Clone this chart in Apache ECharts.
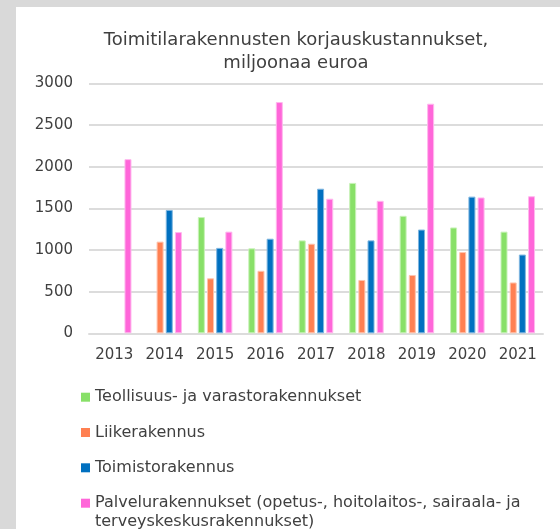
<!DOCTYPE html>
<html>
<head>
<meta charset="utf-8">
<script src="https://cdn.jsdelivr.net/npm/echarts@6/dist/echarts.min.js"></script>
<style>
html,body{margin:0;padding:0;width:560px;height:529px;overflow:hidden;background:#d9d9d9;}
#chart{position:absolute;left:16px;top:7px;width:544px;height:540px;background:#ffffff;}
</style>
</head>
<body>
<div id="chart"></div>
<script>
const years = ['2013','2014','2015','2016','2017','2018','2019','2020','2021'];
const seriesNames = [
  'Teollisuus- ja varastorakennukset',
  'Liikerakennus',
  'Toimistorakennus',
  'Palvelurakennukset (opetus-, hoitolaitos-, sairaala- ja terveyskeskusrakennukset)'
];
const teollisuus = [null, null, 1395, 1020, 1115, 1805, 1410, 1270, 1220];
const liike = [null, 1100, 660, 750, 1075, 640, 700, 975, 610];
const toimisto = [null, 1480, 1025, 1135, 1735, 1115, 1245, 1640, 945];
const palvelu = [2090, 1215, 1220, 2775, 1615, 1590, 2755, 1630, 1645];
const yTicks = {min: 0, max: 3000, interval: 500};

const colors = ['#88e068', '#ff8052', '#0070c0', '#ff66d9'];
const borders = ['#c8f2b8', '#ffc4ae', '#7fb6e0', '#ffb8ee'];
const values = [teollisuus, liike, toimisto, palvelu];

const chart = echarts.init(document.getElementById('chart'), null, {renderer: 'canvas'});
const font = "'DejaVu Sans'";
const textColor = '#404040';

const legendCenters = [390.2, 425.5, 460.8, 496.2];
const legends = seriesNames.map((n, i) => {
  const last = i === 3;
  return {
    data: [n],
    orient: 'vertical',
    left: 65,
    top: last ? legendCenters[i] - 28.5 : legendCenters[i] - 9.5,
    padding: 0,
    itemWidth: 9,
    itemHeight: 9,
    icon: 'rect',
    selectedMode: false,
    itemStyle: {borderWidth: 0},
    formatter: last ? function (name) { return '\n' + name.replace(' terveyskeskus', '\nterveyskeskus'); } : '{name}',
    textStyle: {
      fontFamily: font,
      fontSize: 16,
      color: textColor,
      lineHeight: 19
    }
  };
});

chart.setOption({
  animation: false,
  title: {
    text: 'Toimitilarakennusten korjauskustannukset,\nmiljoonaa euroa',
    left: 280,
    top: 21.5,
    padding: 0,
    textAlign: 'center',
    textStyle: {
      fontFamily: font,
      fontSize: 18,
      fontWeight: 'normal',
      color: textColor,
      lineHeight: 23
    }
  },
  legend: legends,
  grid: {left: 73, top: 76.3, width: 454, height: 250, containLabel: false},
  xAxis: {
    type: 'category',
    data: years,
    axisTick: {show: false},
    axisLine: {lineStyle: {color: '#dcdcdc', width: 2}},
    axisLabel: {fontFamily: font, fontSize: 15, color: textColor, margin: 14}
  },
  yAxis: {
    type: 'value',
    min: yTicks.min,
    max: yTicks.max,
    interval: yTicks.interval,
    axisLine: {show: false},
    axisTick: {show: false},
    splitLine: {lineStyle: {color: '#dcdcdc', width: 2}},
    axisLabel: {fontFamily: font, fontSize: 15, color: textColor, margin: 16, formatter: function (v) { return String(v); }}
  },
  series: seriesNames.map((n, i) => ({
    name: n,
    type: 'bar',
    data: values[i],
    barWidth: 7,
    barGap: '31%',
    itemStyle: {color: colors[i], borderColor: borders[i], borderWidth: 1}
  }))
});
</script>
</body>
</html>
